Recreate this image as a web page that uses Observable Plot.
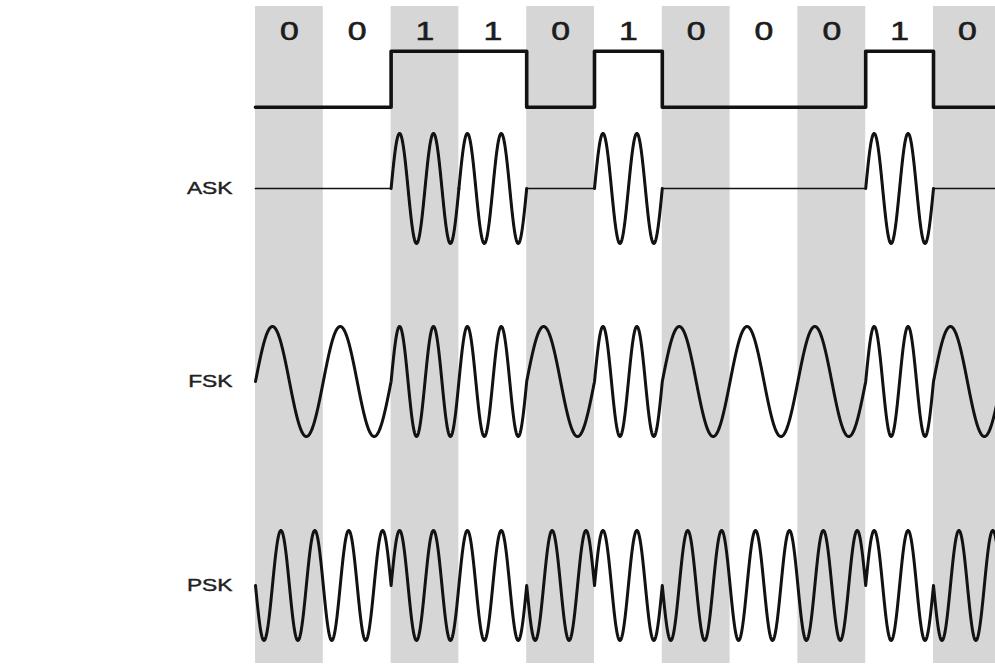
<!DOCTYPE html>
<html><head><meta charset="utf-8">
<script src="https://cdn.jsdelivr.net/npm/d3@7"></script>
<script src="https://cdn.jsdelivr.net/npm/@observablehq/plot@0.6"></script>
<style>html,body{margin:0;padding:0;background:#fff;overflow:hidden}</style>
</head><body><div id="chart"></div>
<script>
// ---- data ----
const bits = [0, 0, 1, 1, 0, 1, 0, 0, 0, 1, 0];
const bitLabels = ["0", "0", "1", "1", "0", "1", "0", "0", "0", "1", "0"];
const rowNames = ["ASK", "FSK", "PSK"];
const askCyclesPerBit = 2;            // carrier cycles per "1" bit (0 bit = no carrier)
const fskCyclesPerBit = {0: 1, 1: 2};  // frequency per bit value
const pskCyclesPerBit = 2;
const pskPhase = {0: Math.PI, 1: 0};   // phase per bit value

// ---- layout (y in carrier-amplitude units) ----
const rowCenter = {ASK: 7.218, FSK: 3.709, PSK: 0};
const digitalLevel = {0: 8.696, 1: 9.714};
const labelRowY = 10.07;
const stripeTop = 10.527, stripeBottom = -1.418;
const rowLabelX = -0.34;
const SAMPLES = 240;

function modulate(fn) {
  const out = [];
  bits.forEach((b, i) => {
    for (let k = 0; k <= SAMPLES; k++) {
      const f = k / SAMPLES;
      out.push({t: i + f, v: fn(b, f), bit: i, b});
    }
  });
  return out;
}
const ask = modulate((b, f) => rowCenter.ASK + (b ? Math.sin(2 * Math.PI * askCyclesPerBit * f) : 0));
const askOn = ask.filter(d => d.b === 1);
const fsk = modulate((b, f) => rowCenter.FSK + Math.sin(2 * Math.PI * fskCyclesPerBit[b] * f));
const psk = modulate((b, f) => rowCenter.PSK + Math.sin(2 * Math.PI * pskCyclesPerBit * f + pskPhase[b]));
const digital = bits.map((b, i) => ({t: i, v: digitalLevel[b]}));
digital.push({t: bits.length, v: digitalLevel[bits[bits.length - 1]]});
const stripes = bits.map((b, i) => i).filter(i => i % 2 === 0);

const ink = "#121212";
const font = "Liberation Sans, Arial, sans-serif";
const plot = Plot.plot({
  width: 995,
  height: 666,
  margin: 0,
  style: {background: "#fff", overflow: "hidden"},
  x: {domain: [0, bits.length], range: [255, 255 + 67.8 * bits.length], axis: null},
  y: {domain: [-1.4727, 10.636], range: [666, 0], axis: null},
  marks: [
    Plot.rect(stripes, {x1: d => d, x2: d => d + 1, y1: stripeBottom, y2: stripeTop, fill: "#d6d6d6"}),
    Plot.line(digital, {x: "t", y: "v", curve: "step-after", stroke: ink, strokeWidth: 3.6}),
    Plot.line(ask, {x: "t", y: "v", stroke: ink, strokeWidth: 1.7}),
    Plot.line(askOn, {x: "t", y: "v", z: "bit", stroke: ink, strokeWidth: 3}),
    Plot.line(fsk, {x: "t", y: "v", stroke: ink, strokeWidth: 3}),
    Plot.line(psk, {x: "t", y: "v", stroke: ink, strokeWidth: 3}),
    Plot.text(bitLabels, {x: (d, i) => i + 0.5, y: labelRowY, text: d => d, fontSize: 25,
      fontFamily: font, fill: "#1c1c1c", stroke: "#1c1c1c", strokeWidth: 0.6}),
    Plot.text(rowNames, {x: rowLabelX, y: d => rowCenter[d], text: d => d, textAnchor: "end",
      fontSize: 16.5, fontFamily: font, fill: "#222", stroke: "#222", strokeWidth: 0.4})
  ]
});
document.getElementById("chart").appendChild(plot);

// horizontal stretch of text, as in the (horizontally stretched) reference
plot.querySelectorAll("text").forEach(t => {
  const isDigit = /^[01]$/.test(t.textContent);
  const sx = isDigit ? 1.35 : 1.38;
  const g = document.createElementNS("http://www.w3.org/2000/svg", "g");
  t.parentNode.insertBefore(g, t);
  g.appendChild(t);
  const b = g.getBBox();
  const cx = isDigit ? b.x + b.width / 2 : b.x + b.width;
  g.setAttribute("transform", `translate(${cx},0) scale(${sx},1) translate(${-cx},0)`);
});
</script>
</body></html>
